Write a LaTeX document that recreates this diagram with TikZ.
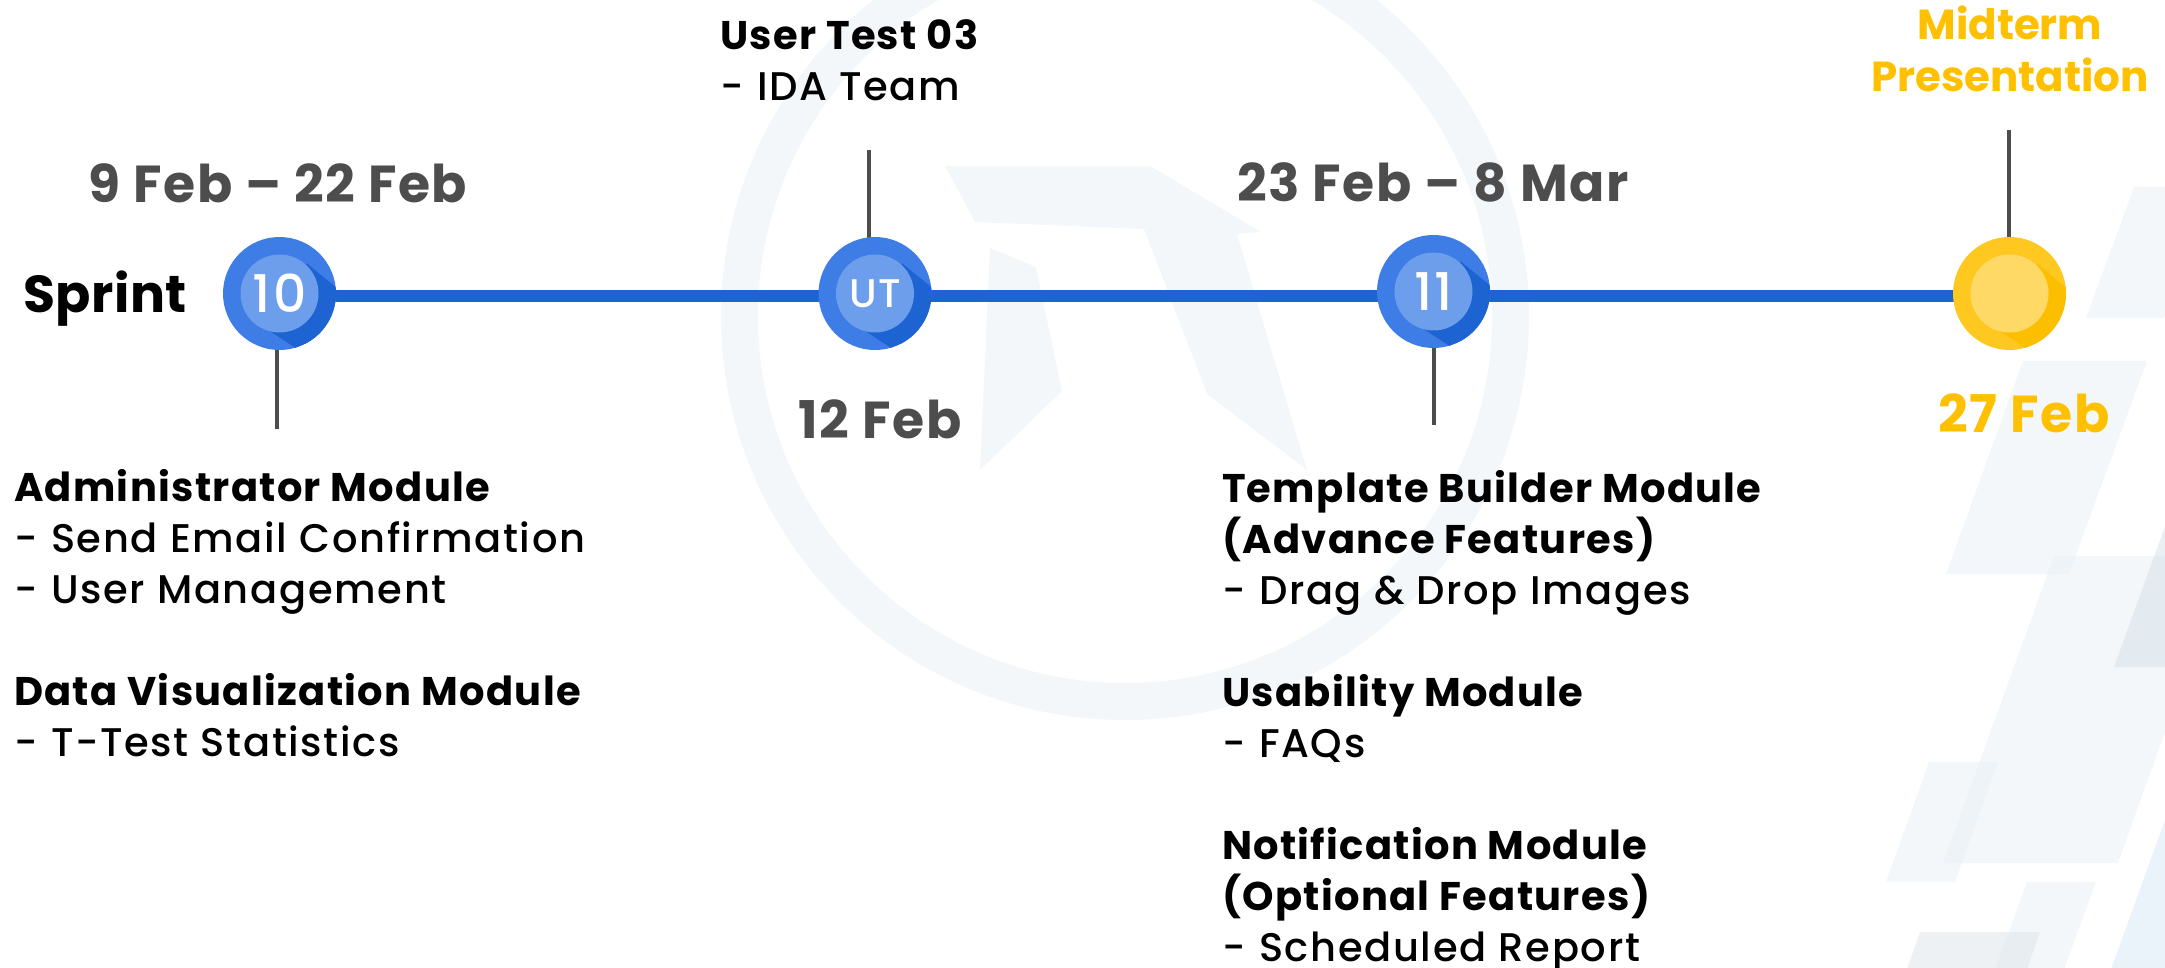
\documentclass[tikz,border=0pt]{standalone}
\usepackage{fontspec}
\setmainfont{Poppins}[UprightFont={Poppins Medium},LetterSpace=4.2,BoldFont={Poppins Bold},BoldFeatures={LetterSpace=3.3}]
\newfontfamily\plainbold{Poppins Bold}
\newfontfamily\sprintbold[LetterSpace=1]{Poppins Bold}
\definecolor{greytext}{HTML}{4D4D4D}
\definecolor{amber}{HTML}{FFC000}
\definecolor{bluemain}{HTML}{3F7DE6}
\definecolor{bluedark}{HTML}{1E63D2}
\definecolor{bluelight}{HTML}{6C9EEB}
\definecolor{ambermain}{HTML}{FFC820}
\definecolor{amberdark}{HTML}{FCBF00}
\definecolor{amberlight}{HTML}{FFD966}
\definecolor{wash}{HTML}{F3F7FA}
\definecolor{washA}{HTML}{E7EFF5}
\definecolor{washB}{HTML}{D6E0E7}
\definecolor{washC}{HTML}{DDE3EA}
\definecolor{washD}{HTML}{D8E7F5}
\newcommand{\ditem}[1]{\makebox[18.5pt][l]{-}#1}
\pgfdeclarelayer{bgshapes}
\pgfdeclarelayer{lines}
\pgfsetlayers{bgshapes,lines,main}
\tikzset{
  x=0.5pt,y=-0.5pt,
  milestone/.style n args={3}{circle,minimum size=56.5pt,inner sep=0pt,outer sep=0pt,fill=#1,
    path picture={\begin{scope}[shift={(path picture bounding box.center)}]
      \fill[#2] (27.3,-30) -- (56,-6.7) -- (75,30) -- (15.7,54.3) -- (-11,36.7) -- cycle;
      \fill[#3] (0,0) circle (39);
    \end{scope}}},
  bluestone/.style={milestone={bluemain}{bluedark}{bluelight}},
  amberstone/.style={milestone={ambermain}{amberdark}{amberlight}},
  bignum/.style={inner sep=0pt,text=white,font=\fontsize{26}{26}\selectfont},
  smallnum/.style={inner sep=0pt,text=white,font=\fontsize{20}{20}\selectfont},
  datetext/.style={inner sep=0pt,outer sep=0pt,anchor=base,font=\fontsize{26}{26}\selectfont\bfseries,text=greytext},
  amberdate/.style={datetext,text=amber},
  block/.style={inner sep=0pt,outer sep=0pt,anchor=north west,align=left,font=\fontsize{20}{25.5}\selectfont},
  midterm/.style={inner sep=0pt,outer sep=0pt,anchor=north,align=center,text=amber,font=\fontsize{21}{26}\selectfont\plainbold},
  timeline/.style={line width=6pt,bluedark},
  stem/.style={line width=2pt,greytext},
  washshape/.style={fill=#1,opacity=.5},
  ring/.style={fill=wash,even odd rule}
}
\begin{document}
\begin{tikzpicture}
\useasboundingbox (0,0) rectangle (2165,968);
\clip (0,0) rectangle (2165,968);
\begin{pgfonlayer}{bgshapes}
  \fill[ring] (1125,316) circle (404) (1125,316) circle (367);
  \fill[wash] (945,166) -- (1150,166) -- (1261,232) -- (1237,234) -- (1307,470) -- (1207,394) -- (1144,229) -- (975,222) -- cycle;
  \fill[wash] (990,248) -- (1036,267) -- (1062,391) -- (980,470) -- cycle;
  \fill[washshape=washA] (2134,187) -- (2300,187) -- (2163,318) -- (2086,318) -- cycle;
  \fill[washshape=washA] (2023,361) -- (2147,361) -- (2069,574) -- (1946,574) -- cycle;
  \fill[washshape=washA] (2054,556) -- (2228,556) -- (2118,863) -- (1943,863) -- cycle;
  \fill[washshape=washB] (2114,667) -- (2180,485) -- (2300,485) -- (2300,667) -- cycle;
  \fill[washshape=washA] (1929,762) -- (1998,762) -- (1955,882) -- (1886,882) -- cycle;
  \fill[washshape=washA] (2027,882) -- (2096,882) -- (2060,980) -- (1991,980) -- cycle;
  \fill[washshape=washC] (1920,932) -- (2040,932) -- (2023,980) -- (1903,980) -- cycle;
  \fill[washshape=washD] (2165,820) -- (2300,820) -- (2300,980) -- (2107,980) -- cycle;
\end{pgfonlayer}

\coordinate (lineY) at (0,296);
\node[bluestone] (n10) at (279.5,293.5) {};
\node[bignum] (t10) at (n10) {10};
\node[bluestone] (nUT) at (875,293.5) {};
\node[smallnum] (tUT) at (nUT) {UT};
\node[bluestone] (n11) at (1433.5,291.5) {};
\node[bignum] (t11) at (n11) {11};
\node[amberstone] (nM) at (2009.5,293.5) {};

\coordinate (e10) at (277,429);
\coordinate (eUT) at (869,150);
\coordinate (e11) at (1433.5,425);
\coordinate (eM) at (2009,130);

\begin{pgfonlayer}{lines}
  \draw[timeline] (n10.center |- lineY) -- (nUT.center |- lineY);
  \draw[timeline] (nUT.center |- lineY) -- (n11.center |- lineY);
  \draw[timeline] (n11.center |- lineY) -- (nM.center |- lineY);
  \draw[stem] (e10) -- (e10 |- n10.center);
  \draw[stem] (eUT) -- (eUT |- nUT.center);
  \draw[stem] (e11) -- (e11 |- n11.center);
  \draw[stem] (eM) -- (eM |- nM.center);
\end{pgfonlayer}

\node[inner sep=0pt,anchor=base west,font=\fontsize{26}{26}\selectfont\sprintbold] (sprint) at (23,313) {Sprint};
\node[datetext] (d10) at (278,203) {9 Feb -- 22 Feb};
\node[datetext] (d11) at (1433,202) {23 Feb -- 8 Mar};
\node[datetext] (dUT) at (880,438) {12 Feb};
\node[amberdate] (dM) at (2024,433) {27 Feb};

\node[midterm] (mid) at (2010,6) {Midterm\\Presentation};

\node[block] (ut) at (720,20) {\textbf{User Test 03}\\\ditem{IDA Team}};
\node[block] (left) at (14,469) {\textbf{Administrator Module}\\\ditem{Send Email Confirmation}\\\ditem{User Management}\\[25.5pt]\textbf{Data Visualization Module}\\\ditem{T-Test Statistics}};
\node[block] (right) at (1222,470) {\textbf{Template Builder Module}\\\textbf{(Advance Features)}\\\ditem{Drag \& Drop Images}\\[25.5pt]\textbf{Usability Module}\\\ditem{FAQs}\\[25.5pt]\textbf{Notification Module}\\\textbf{(Optional Features)}\\\ditem{Scheduled Report}};
\end{tikzpicture}
\end{document}
